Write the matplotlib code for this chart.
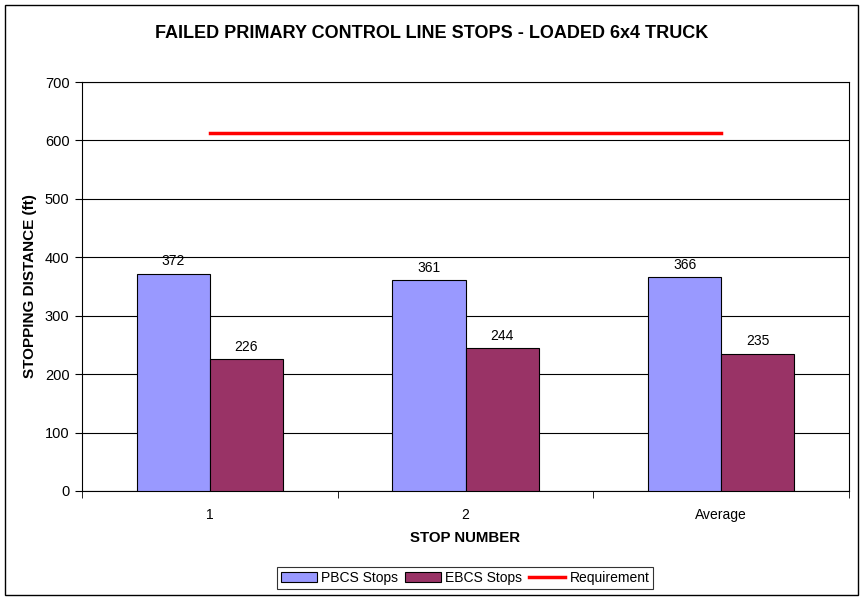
import matplotlib
matplotlib.use("Agg")
import matplotlib.pyplot as plt
import numpy as np
from matplotlib.patches import Rectangle

categories = ["1", "2", "Average"]
pbcs = [372, 361, 366]
ebcs = [226, 244, 235]
requirement = [613, 613, 613]

plt.rcParams['font.family'] = ['Liberation Sans', 'DejaVu Sans']

fig = plt.figure(figsize=(8.64, 6.0), dpi=100)
fig.patches.append(Rectangle((5/864, 5/600), 853/864, 590/600, transform=fig.transFigure,
                             fill=False, edgecolor='black', linewidth=1.0))

ax = fig.add_axes([82/864, 109/600, 767/864, 409/600])
x = np.arange(len(categories))
w = 1/3.5
b1 = ax.bar(x - w/2, pbcs, w, color='#9999FF', edgecolor='black', linewidth=0.8, label='PBCS Stops', zorder=3)
b2 = ax.bar(x + w/2, ebcs, w, color='#993366', edgecolor='black', linewidth=0.8, label='EBCS Stops', zorder=3)
ax.plot(x, requirement, color='#FF0000', linewidth=2.5, label='Requirement', zorder=4)

for rect, v in zip(list(b1) + list(b2), pbcs + ebcs):
    ax.text(rect.get_x() + rect.get_width()/2, v + 9, str(v), ha='center', va='bottom', fontsize=10)

ax.set_xlim(-0.5, 2.5)
ax.set_ylim(0, 700)
ax.set_yticks(range(0, 701, 100))
ax.yaxis.grid(True, color='black', linewidth=0.8)
ax.set_axisbelow(True)
ax.set_xticks(x)
ax.set_xticklabels(categories, fontsize=10)
ax.tick_params(axis='x', length=0, pad=12)
ax.set_xticks(np.arange(-0.5, 2.6, 1), minor=True)
ax.tick_params(axis='x', which='minor', length=5, direction='out')
ax.tick_params(axis='y', length=5, direction='out', labelsize=10.5, pad=4)
for s in ax.spines.values():
    s.set_linewidth(0.8)

ax.set_xlabel('STOP NUMBER', fontsize=10.8, fontweight='bold', labelpad=7)
ax.set_ylabel('STOPPING DISTANCE (ft)', fontsize=11, fontweight='bold', labelpad=6)
fig.text(432/864, 1 - 33/600, 'FAILED PRIMARY CONTROL LINE STOPS - LOADED 6x4 TRUCK',
         fontsize=13, fontweight='bold', ha='center', va='center')

leg = fig.legend(handles=[b1, b2, ax.lines[0]], loc='center', bbox_to_anchor=(465/864, 1 - 578/600),
                 ncol=3, frameon=True, fancybox=False, edgecolor='black', fontsize=10,
                 handlelength=2.6, handletextpad=0.3, columnspacing=0.5, borderpad=0.3,
                 borderaxespad=0)
leg.get_frame().set_linewidth(0.8)

fig.savefig('out.png', dpi=100)
